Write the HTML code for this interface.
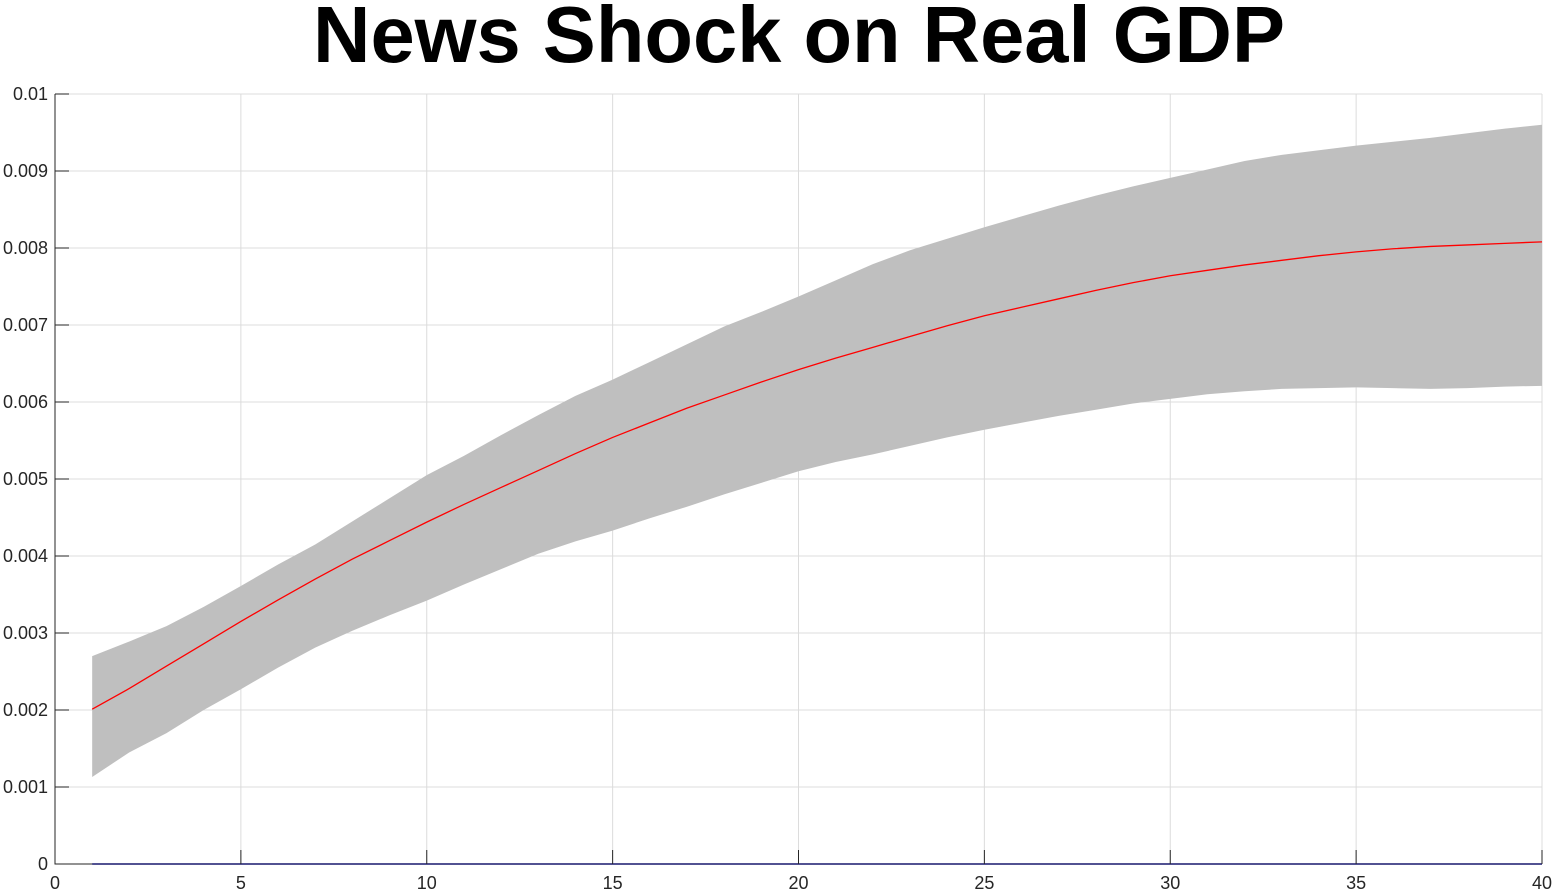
<!DOCTYPE html>
<html><head><meta charset="utf-8"><style>
body{margin:0;background:#fff;width:1554px;height:893px;overflow:hidden}
svg{display:block}
text{font-family:"Liberation Sans",Arial,sans-serif}
</style></head><body>
<svg id="chart" width="1554" height="893">
<text x="799" y="62" text-anchor="middle" font-size="79.5" font-weight="bold">News Shock on Real GDP</text>
<g id="grid"></g>
<g id="band"></g>
<g id="lines"></g>
<g id="axes"></g>
</svg>
<script>
const horizons=[1,2,3,4,5,6,7,8,9,10,11,12,13,14,15,16,17,18,19,20,21,22,23,24,25,26,27,28,29,30,31,32,33,34,35,36,37,38,39,40];
const meanResp=[2.01,2.28,2.57,2.86,3.15,3.43,3.70,3.96,4.20,4.44,4.67,4.89,5.11,5.33,5.54,5.73,5.92,6.09,6.26,6.42,6.57,6.71,6.85,6.99,7.12,7.23,7.34,7.45,7.55,7.64,7.71,7.78,7.84,7.90,7.95,7.99,8.02,8.04,8.06,8.08];
const upperBand=[2.70,2.89,3.09,3.34,3.61,3.89,4.15,4.45,4.75,5.05,5.30,5.57,5.83,6.08,6.29,6.52,6.75,6.98,7.17,7.37,7.58,7.79,7.97,8.12,8.27,8.41,8.55,8.68,8.80,8.91,9.02,9.13,9.21,9.27,9.33,9.38,9.43,9.49,9.55,9.60];
const lowerBand=[1.13,1.45,1.70,2.00,2.27,2.55,2.81,3.03,3.23,3.42,3.63,3.83,4.03,4.19,4.33,4.49,4.64,4.80,4.95,5.10,5.22,5.32,5.43,5.54,5.64,5.73,5.82,5.90,5.98,6.04,6.10,6.14,6.17,6.18,6.19,6.18,6.17,6.18,6.20,6.21];
const xTicks=[0,5,10,15,20,25,30,35,40];
const yTicks=[0,0.001,0.002,0.003,0.004,0.005,0.006,0.007,0.008,0.009,0.01];
const yTickLabels=["0","0.001","0.002","0.003","0.004","0.005","0.006","0.007","0.008","0.009","0.01"];
const L=55,R=1542,T=94,B=864;
const sx=v=>L+(v-0)/40*(R-L);
const sy=v=>B-(v/0.01)*(B-T);
const NS="http://www.w3.org/2000/svg";
function mk(tag,attrs,parent){const e=document.createElementNS(NS,tag);for(const k in attrs)e.setAttribute(k,attrs[k]);parent.appendChild(e);return e;}
const grid=document.getElementById('grid'),band=document.getElementById('band'),lines=document.getElementById('lines'),axes=document.getElementById('axes');
xTicks.forEach(t=>{if(t===0)return;const l=mk('line',{x1:sx(t),x2:sx(t),y1:T,y2:B,stroke:'#dcdcdc','stroke-width':1},grid);

});
yTicks.forEach(t=>{if(t===0)return;const l=mk('line',{x1:L,x2:R,y1:sy(t),y2:sy(t),stroke:'#dcdcdc','stroke-width':1},grid);

});
let d='';
horizons.forEach((h,i)=>{d+=(i?'L':'M')+sx(h)+','+sy(upperBand[i]/1000);});
for(let i=horizons.length-1;i>=0;i--)d+='L'+sx(horizons[i])+','+sy(lowerBand[i]/1000);
d+='Z';
const p=mk('path',{d:d,fill:'#bfbfbf',stroke:'none'},band);


const zl=mk('line',{x1:sx(horizons[0]),x2:sx(horizons[horizons.length-1]),y1:sy(0),y2:sy(0),stroke:'#0000ff','stroke-width':1.5},lines);


const ml=mk('polyline',{points:horizons.map((h,i)=>sx(h)+','+sy(meanResp[i]/1000)).join(' '),fill:'none',stroke:'#ff0000','stroke-width':1.3},lines);


const ax=mk('path',{d:`M${L},${T}L${L},${B}L${R},${B}`,fill:'none',stroke:'#262626','stroke-width':1},axes);


xTicks.forEach(t=>{const tk=mk('line',{x1:sx(t),x2:sx(t),y1:B,y2:B-14,stroke:'#262626','stroke-width':1},axes);


const tx=mk('text',{x:sx(t),y:B+25,'text-anchor':'middle','font-size':18,fill:'#262626'},axes);tx.textContent=String(t);

});
yTicks.forEach((t,i)=>{const tk=mk('line',{x1:L,x2:L+14,y1:sy(t),y2:sy(t),stroke:'#262626','stroke-width':1},axes);


const tx=mk('text',{x:L-7,y:sy(t)+6,'text-anchor':'end','font-size':18,fill:'#262626'},axes);tx.textContent=yTickLabels[i];

});
</script>
</body></html>
